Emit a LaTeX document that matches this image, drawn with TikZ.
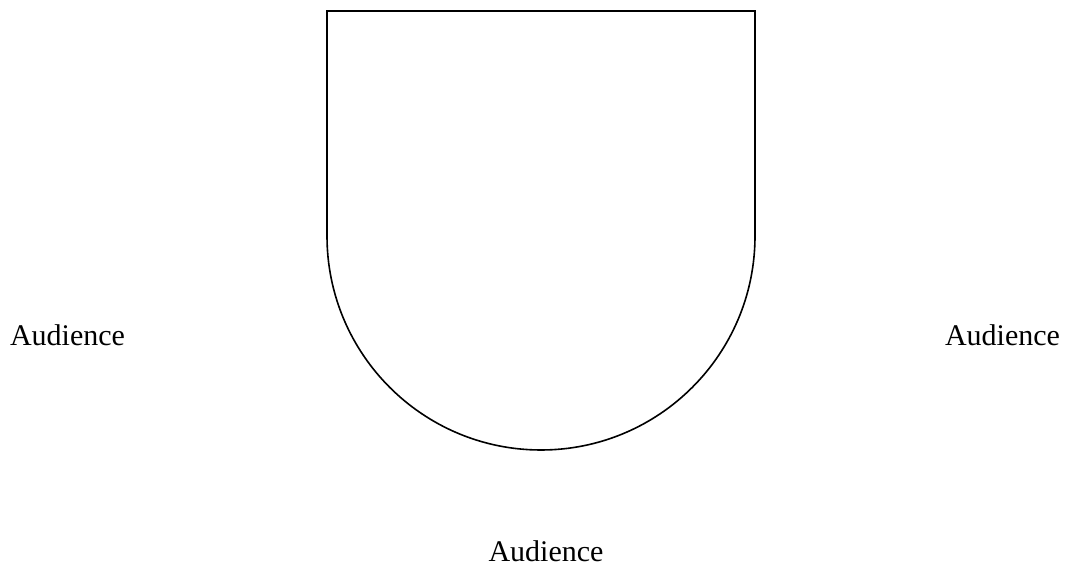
\documentclass[tikz,border=0pt]{standalone}
\usepackage{fontspec}
\setmainfont{Liberation Serif}
\begin{document}
\begin{tikzpicture}[x=1pt,y=1pt,
  lbl/.style={font=\fontsize{30}{34}\selectfont, inner sep=0pt, anchor=base},
  stage/.style={draw=black, line width=1.6pt}]
\useasboundingbox (0,0) rectangle (1069,567);
\coordinate (tl) at (327,556);
\coordinate (tr) at (755,556);
\draw[stage] (327,331) -- (tl) -- (tr) -- (755,331) arc[start angle=0, end angle=-180, radius=214] -- cycle;
\node[lbl] (aL) at (67.5,221) {Audience};
\node[lbl] (aR) at (1002.5,221) {Audience};
\node[lbl] (aB) at (546,5) {Audience};
\end{tikzpicture}
\end{document}
